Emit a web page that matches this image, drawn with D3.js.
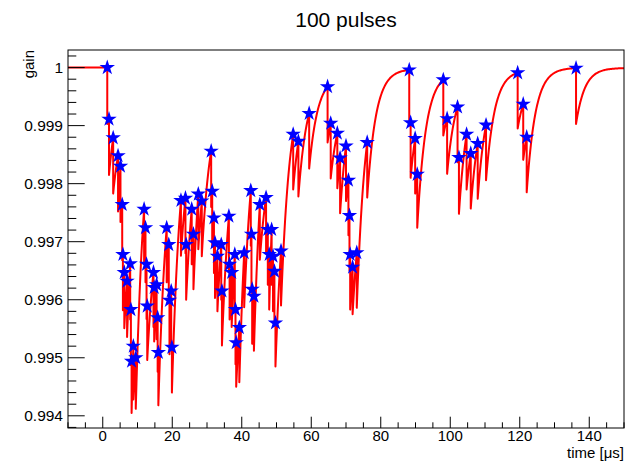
<!DOCTYPE html>
<html><head><meta charset="utf-8">
<script src="https://cdn.jsdelivr.net/npm/d3@7"></script>
<style>html,body{margin:0;padding:0;background:#fff}svg{display:block}</style>
</head><body>
<svg id="c" width="634" height="461"></svg>
<script>
// ---- data ----
const pulseTime = [1.3,1.8,3.0,4.4,5.1,5.6,5.8,6.2,7.0,7.9,8.1,8.3,8.8,9.5,11.9,12.3,12.6,12.8,14.6,14.8,15.5,15.8,16.0,18.4,19.0,19.2,19.7,19.9,22.5,23.8,24.0,25.6,26.1,27.5,28.5,31.2,31.5,32.0,32.3,33.0,34.1,34.3,36.3,36.5,37.1,38.0,38.2,38.4,39.3,40.7,42.6,42.8,43.0,43.5,45.2,47.0,47.5,47.9,48.6,49.0,49.4,49.7,51.3,54.8,56.3,59.4,64.7,65.6,67.5,68.3,70.0,70.7,71.0,71.2,71.9,73.1,76.1,88.2,88.6,89.9,90.5,98.0,99.1,102.1,102.5,104.7,105.9,107.9,110.3,119.4,121.0,122.0,136.2];
const gainBefore = [1.00000,0.99911,0.99879,0.99848,0.99830,0.99764,0.99678,0.99647,0.99632,0.99662,0.99583,0.99494,0.99520,0.99500,0.99756,0.99724,0.99661,0.99589,0.99647,0.99621,0.99626,0.99569,0.99509,0.99724,0.99695,0.99599,0.99615,0.99518,0.99771,0.99775,0.99695,0.99756,0.99713,0.99782,0.99770,0.99856,0.99787,0.99741,0.99698,0.99675,0.99695,0.99615,0.99744,0.99661,0.99647,0.99678,0.99583,0.99526,0.99552,0.99681,0.99788,0.99713,0.99618,0.99606,0.99764,0.99776,0.99721,0.99678,0.99721,0.99675,0.99649,0.99560,0.99684,0.99885,0.99873,0.99921,0.99967,0.99904,0.99887,0.99844,0.99865,0.99806,0.99745,0.99678,0.99656,0.99681,0.99871,0.99996,0.99905,0.99878,0.99816,0.99979,0.99912,0.99932,0.99845,0.99885,0.99852,0.99869,0.99901,0.99991,0.99937,0.99880,0.99999];
const gainAfter = [0.99903,0.99815,0.99783,0.99752,0.99734,0.99668,0.99582,0.99551,0.99536,0.99566,0.99487,0.99405,0.99428,0.99412,0.99661,0.99630,0.99567,0.99496,0.99553,0.99528,0.99532,0.99476,0.99418,0.99630,0.99600,0.99506,0.99522,0.99440,0.99676,0.99680,0.99600,0.99661,0.99618,0.99687,0.99675,0.99760,0.99692,0.99646,0.99603,0.99580,0.99600,0.99521,0.99649,0.99566,0.99553,0.99583,0.99489,0.99450,0.99458,0.99587,0.99693,0.99618,0.99524,0.99512,0.99669,0.99681,0.99626,0.99583,0.99626,0.99580,0.99555,0.99485,0.99590,0.99790,0.99778,0.99826,0.99871,0.99809,0.99792,0.99749,0.99770,0.99711,0.99650,0.99583,0.99575,0.99586,0.99776,0.99900,0.99810,0.99783,0.99724,0.99883,0.99817,0.99837,0.99748,0.99790,0.99757,0.99774,0.99806,0.99895,0.99841,0.99785,0.99903];
const startPoint = [-10, 1.0];
const endPoint = [150, 0.99999];
const xMajorTicks = [0,20,40,60,80,100,120,140];
const yMajorTicks = [0.994,0.995,0.996,0.997,0.998,0.999,1];
const yTickLabels = ["0.994","0.995","0.996","0.997","0.998","0.999","1"];
const titleText = "100 pulses";
const xTitle = "time [\u03bcs]";
const yTitle = "gain";
const recoveryTau = 2.5; // µs, shape of the recovery curve

// ---- layout ----
const L = 68, R = 624, T = 50, B = 428;
const svg = d3.select("#c");
const x = d3.scaleLinear().domain([-10,150]).range([L,R]);
const y = d3.scaleLinear().domain([0.99379,1.000303]).range([B,T]);
const font = "'Liberation Sans', Arial, Helvetica, sans-serif";

svg.append("defs").append("clipPath").attr("id","clip")
  .append("rect").attr("x",L).attr("y",T).attr("width",R-L).attr("height",B-T);

// line points
const pts = [startPoint];
pulseTime.forEach((t,i)=>{ pts.push([t,gainBefore[i]]); pts.push([t,gainAfter[i]]); });
pts.push(endPoint);

// custom curve: exponential recovery shape between successive points
const tauPx = recoveryTau*(x(1)-x(0));
function curveRecovery(context){
  let p = [];
  return {
    areaStart(){}, areaEnd(){},
    lineStart(){ p = []; },
    point(a,b){ p.push([+a,+b]); },
    lineEnd(){
      if(!p.length) return;
      context.moveTo(p[0][0],p[0][1]);
      for(let i=1;i<p.length;i++){
        const [x0,y0]=p[i-1],[x1,y1]=p[i];
        const dx=x1-x0, dy=y1-y0;
        if(dx<=0.01||Math.abs(dy)<0.01){ context.lineTo(x1,y1); continue; }
        const k=dx/tauPx, n=Math.max(2,Math.ceil(dx/0.7)), den=1-Math.exp(-k);
        for(let j=1;j<=n;j++){ const u=j/n; context.lineTo(x0+u*dx, y0+dy*(1-Math.exp(-k*u))/den); }
      }
    }
  };
}
const line = d3.line().x(d=>x(d[0])).y(d=>y(d[1])).curve(curveRecovery);
svg.append("path").attr("clip-path","url(#clip)").attr("d",line(pts))
  .attr("fill","none").attr("stroke","#ff0000").attr("stroke-width",2).attr("stroke-linejoin","round");

// stars
const star = d3.symbol().type(d3.symbolStar).size(74);
svg.append("g").attr("clip-path","url(#clip)").selectAll("path").data(pulseTime).join("path")
  .attr("transform",(t,i)=>`translate(${x(t)},${y(gainBefore[i])})`)
  .attr("d",star()).attr("fill","#0000ff");

// frame
svg.append("rect").attr("x",L).attr("y",T).attr("width",R-L).attr("height",B-T)
  .attr("fill","none").attr("stroke","#000").attr("stroke-width",1);

// x axis ticks (inside)
const xMinor = d3.range(-10,151,5).filter(v=>!xMajorTicks.includes(v));
const gx = svg.append("g").attr("stroke","#000").attr("stroke-width",1);
xMajorTicks.forEach(v=>gx.append("line").attr("x1",x(v)).attr("x2",x(v)).attr("y1",B).attr("y2",B-11.3));
xMinor.forEach(v=>gx.append("line").attr("x1",x(v)).attr("x2",x(v)).attr("y1",B).attr("y2",B-5.7));
svg.append("g").selectAll("text").data(xMajorTicks).join("text")
  .attr("x",d=>x(d)).attr("y",440.5).attr("text-anchor","middle")
  .attr("font-family",font).attr("font-size",15).text(d=>d);

// y axis ticks
const yMinor = d3.range(0,34).map(i=>+(0.9938+i*0.0002).toFixed(4)).filter(v=>v>=0.99379&&v<=1.0003&&!yMajorTicks.some(m=>Math.abs(m-v)<1e-7));
const gy = svg.append("g").attr("stroke","#000").attr("stroke-width",1);
yMajorTicks.forEach(v=>gy.append("line").attr("x1",L).attr("x2",L+16.7).attr("y1",y(v)).attr("y2",y(v)));
yMinor.forEach(v=>gy.append("line").attr("x1",L).attr("x2",L+8.3).attr("y1",y(v)).attr("y2",y(v)));
svg.append("g").selectAll("text").data(yMajorTicks).join("text")
  .attr("x",63).attr("y",d=>y(d)).attr("dy","0.36em").attr("text-anchor","end")
  .attr("font-family",font).attr("font-size",15.5).text((d,i)=>yTickLabels[i]);

// titles
svg.append("text").attr("x",346).attr("y",27).attr("text-anchor","middle")
  .attr("font-family",font).attr("font-size",21).text(titleText);
svg.append("text").attr("x",R).attr("y",457.5).attr("text-anchor","end")
  .attr("font-family",font).attr("font-size",15).text(xTitle);
svg.append("text").attr("transform","translate(34,50) rotate(-90)").attr("text-anchor","end")
  .attr("font-family",font).attr("font-size",15).text(yTitle);
</script>
</body></html>
